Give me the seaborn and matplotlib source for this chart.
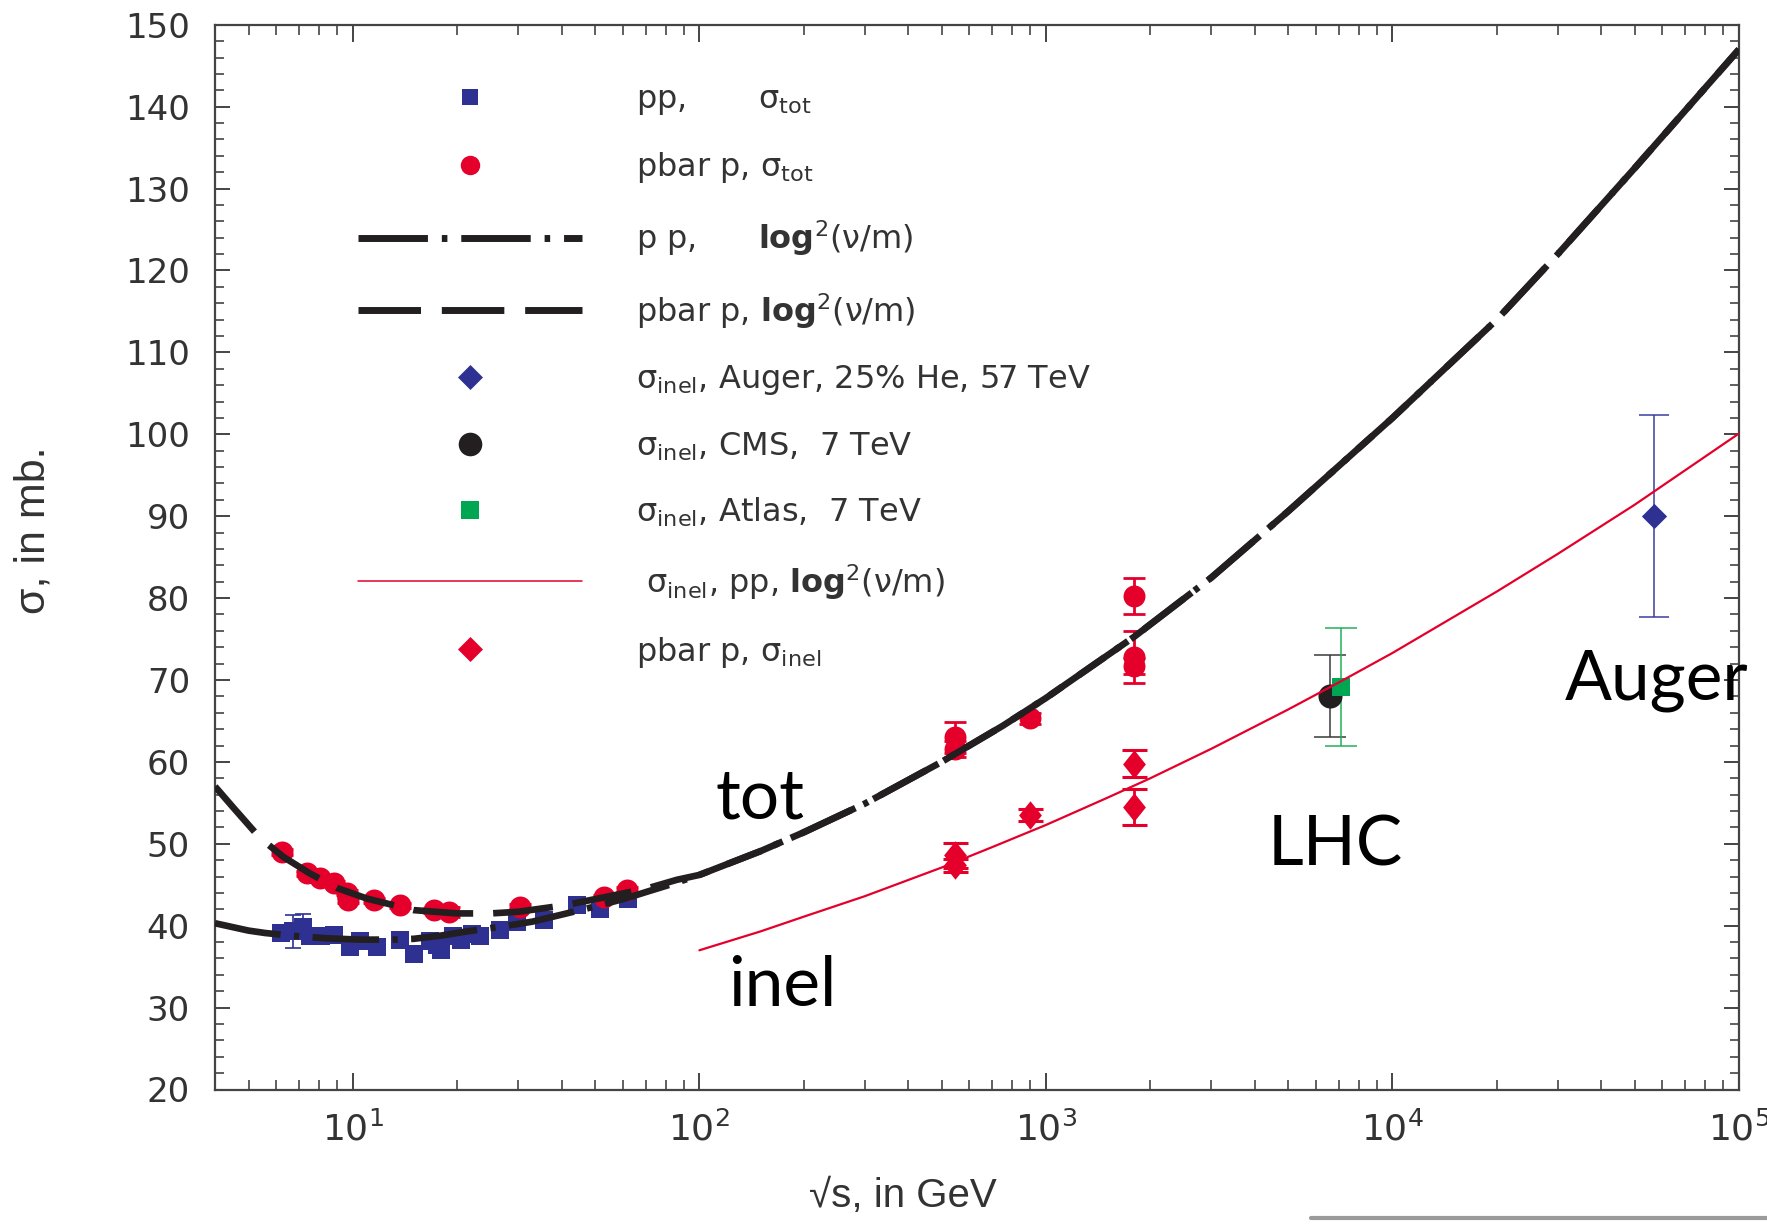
import matplotlib
matplotlib.use("Agg")
import matplotlib.pyplot as plt
from matplotlib.lines import Line2D
from matplotlib.ticker import MultipleLocator, LogLocator, NullFormatter
from matplotlib.font_manager import FontProperties
import numpy as np
import pandas as pd
import seaborn as sns

# ------------------ data ------------------
# fitted curves (sqrt(s) in GeV, sigma in mb)
low_pp_x = [4, 5, 5.6, 7, 8.5, 10.5, 13, 15, 18, 21.3, 27, 33, 41.4, 51.7, 62, 70, 85]
low_pp_y = [40.3, 39.4, 39.1, 38.7, 38.45, 38.3, 38.3, 38.4, 38.8, 39.3, 39.9, 40.5, 41.5, 42.5, 43.4, 44.1, 45.2]
low_pbarp_x = [4, 4.5, 5, 5.4, 6.3, 7.5, 9, 11, 15, 20, 25, 30, 41, 55, 70, 86]
low_pbarp_y = [57.0, 54.5, 52.3, 50.7, 48.4, 46.4, 44.6, 43.3, 41.9, 41.5, 41.5, 41.7, 42.5, 43.6, 44.5, 45.6]
high_tot_x = [100, 150, 200, 300, 500, 750, 1000, 1800, 3000, 5000, 1e4, 2e4, 3e4, 5e4, 1e5]
high_tot_y = [46.2, 49.1, 51.4, 54.9, 60.0, 64.4, 67.8, 75.3, 82.5, 90.6, 102.0, 114.0, 122.0, 132.5, 147.0]
inel_curve_x = [100, 150, 200, 300, 500, 700, 1000, 1500, 2000, 3000, 5000, 7000, 1e4, 2e4, 3e4, 5e4, 1e5]
inel_curve_y = [37.0, 39.3, 41.1, 43.6, 47.1, 49.6, 52.3, 55.6, 58.0, 61.6, 66.4, 69.7, 73.3, 80.8, 85.4, 91.4, 100.1]

# pp total cross sections
pp_tot_x = [6.2, 6.7, 7.2, 7.5, 8.1, 8.8, 9.8, 10.5, 11.7, 13.7, 15.0, 16.7, 17.5, 18.0, 19.5,
            20.5, 22.0, 23.3, 26.6, 29.7, 35.5, 44.3, 51.7, 62.2]
pp_tot_y = [39.1, 39.3, 39.9, 38.8, 38.8, 38.9, 37.4, 38.1, 37.4, 38.3, 36.6, 38.1, 37.6, 37.0, 38.8,
            38.2, 39.0, 38.8, 39.5, 40.5, 40.7, 42.5, 42.1, 43.3]
pp_tot_err = [1.0, 2.0, 1.5, 0.5, 0.4, 0.4, 0.4, 0.4, 0.3, 0.4, 0.5, 0.4, 0.3, 0.4, 0.5,
              0.3, 0.3, 0.4, 0.6, 0.4, 0.3, 0.3, 0.3, 0.3]

# pbar p total cross sections
pbp_tot_x = [6.24, 7.36, 8.05, 8.8, 9.6, 9.7, 11.5, 13.7, 17.1, 18.9, 30.4, 52.9, 61.7,
             546, 546, 900, 1800, 1800, 1800]
pbp_tot_y = [49.0, 46.4, 45.8, 45.2, 44.0, 43.1, 43.1, 42.5, 41.9, 41.7, 42.3, 43.5, 44.4,
             63.0, 61.6, 65.3, 80.2, 72.8, 71.7]
pbp_tot_err = [0.4, 0.3, 0.3, 0.3, 0.3, 0.3, 0.3, 0.3, 0.3, 0.6, 0.3, 0.3, 0.3,
               1.9, 1.0, 0.7, 2.2, 3.2, 1.0]

# pbar p inelastic cross sections
pbp_inel_x = [546, 546, 900, 1800, 1800]
pbp_inel_y = [48.6, 47.4, 53.5, 59.8, 54.5]
pbp_inel_err = [1.5, 0.8, 0.7, 1.6, 2.2]

# LHC and Auger inelastic points
cms_x, cms_y, cms_err = [6600], [68.0], [5.0]
atlas_x, atlas_y, atlas_err = [7100], [69.1], [7.2]
auger_x, auger_y, auger_err = [57000], [90.0], [12.3]

legend_labels = [
    r"pp,       $\mathrm{\sigma}_{\rm tot}$",
    r"pbar p, $\mathrm{\sigma}_{\rm tot}$",
    r"p p,      $\mathbf{log}^2\mathrm{(\nu/m)}$",
    r"pbar p, $\mathbf{log}^2\mathrm{(\nu/m)}$",
    r"$\mathrm{\sigma}_{\rm inel}$, Auger, 25% He, 57 TeV",
    r"$\mathrm{\sigma}_{\rm inel}$, CMS,  7 TeV",
    r"$\mathrm{\sigma}_{\rm inel}$, Atlas,  7 TeV",
    r" $\mathrm{\sigma}_{\rm inel}$, pp, $\mathbf{log}^2\mathrm{(\nu/m)}$",
    r"pbar p, $\mathrm{\sigma}_{\rm inel}$",
]

# ------------------ styling ------------------
BLUE = "#2E3192"
RED = "#E4002B"
GREEN = "#00A651"
BLACK = "#231F20"
GREY = "#333333"

sns.set_theme(style="ticks")
plt.rcParams.update({
    "font.family": ["DejaVu Sans"],
    "mathtext.fontset": "custom",
    "mathtext.rm": "Liberation Sans",
    "mathtext.it": "Liberation Sans:italic",
    "mathtext.bf": "Liberation Sans:bold",
    "axes.edgecolor": "#444444",
    "axes.linewidth": 1.6,
    "xtick.color": "#444444",
    "ytick.color": "#444444",
    "xtick.labelcolor": GREY,
    "ytick.labelcolor": GREY,
})

fig = plt.figure(figsize=(17.67, 12.25), dpi=100)
ax = fig.add_axes([215 / 1767, 1 - 1089.5 / 1225, (1739 - 215) / 1767, (1089.5 - 24.8) / 1225])
ax.set_xscale("log")

DASHDOT = (0, (10, 2.0, 0.8, 2.0))
DASHED = (0, (9, 3.0))
diamond_red = [(0, 1), (0.8, 0), (0, -1), (-0.8, 0)]
diamond = [(0, 1), (1, 0), (0, -1), (-1, 0)]

# error bars
ax.errorbar(pp_tot_x, pp_tot_y, yerr=pp_tot_err, fmt="none", ecolor=BLUE, elinewidth=1.2,
            capsize=6, capthick=1.2, zorder=2)
ax.errorbar(pbp_tot_x, pbp_tot_y, yerr=pbp_tot_err, fmt="none", ecolor=RED, elinewidth=2,
            capsize=8, capthick=2, zorder=2)
ax.errorbar(pbp_inel_x, pbp_inel_y, yerr=pbp_inel_err, fmt="none", ecolor=RED, elinewidth=2,
            capsize=9, capthick=2.2, zorder=2)
ax.errorbar(cms_x, cms_y, yerr=cms_err, fmt="none", ecolor="#3a3a3a", elinewidth=1.1,
            capsize=11.5, capthick=1.1, zorder=2)
ax.errorbar(atlas_x, atlas_y, yerr=atlas_err, fmt="none", ecolor="#22b05a", elinewidth=1.1,
            capsize=11.5, capthick=1.1, zorder=2)
ax.errorbar(auger_x, auger_y, yerr=auger_err, fmt="none", ecolor="#3b3f9c", elinewidth=1.1,
            capsize=11, capthick=1.1, zorder=2)

# markers
sns.scatterplot(x=pp_tot_x, y=pp_tot_y, marker="s", s=160, color=BLUE, linewidth=0, ax=ax, zorder=3)
sns.scatterplot(x=pbp_tot_x, y=pbp_tot_y, marker="o", s=250, color=RED, linewidth=0, ax=ax, zorder=3)
sns.scatterplot(x=pbp_inel_x, y=pbp_inel_y, marker=diamond_red, s=420, color=RED, linewidth=0, ax=ax, zorder=3)
sns.scatterplot(x=cms_x, y=cms_y, marker="o", s=300, color=BLACK, linewidth=0, ax=ax, zorder=3)
sns.scatterplot(x=atlas_x, y=atlas_y, marker="s", s=170, color=GREEN, linewidth=0, ax=ax, zorder=3)
sns.scatterplot(x=auger_x, y=auger_y, marker=diamond, s=330, color=BLUE, linewidth=0, ax=ax, zorder=3)

# curves
pp_curve = pd.DataFrame({"sqrt_s": low_pp_x + high_tot_x, "sigma": low_pp_y + high_tot_y})
pbarp_curve = pd.DataFrame({"sqrt_s": low_pbarp_x + high_tot_x, "sigma": low_pbarp_y + high_tot_y})
inel_curve = pd.DataFrame({"sqrt_s": inel_curve_x, "sigma": inel_curve_y})
sns.lineplot(data=pp_curve, x="sqrt_s", y="sigma", ax=ax, color=BLACK, lw=4.8, linestyle=DASHDOT,
             sort=False, estimator=None, zorder=5)
sns.lineplot(data=pbarp_curve, x="sqrt_s", y="sigma", ax=ax, color=BLACK, lw=4.8, linestyle=DASHED,
             sort=False, estimator=None, zorder=5)
sns.lineplot(data=inel_curve, x="sqrt_s", y="sigma", ax=ax, color=RED, lw=1.6,
             sort=False, estimator=None, zorder=5)

# axes
ax.set_xlim(4, 1e5)
ax.set_ylim(20, 150)
ax.set_xlabel("")
ax.set_ylabel("")
ax.yaxis.set_major_locator(MultipleLocator(10))
ax.yaxis.set_minor_locator(MultipleLocator(2))
ax.xaxis.set_major_locator(LogLocator(base=10))
ax.xaxis.set_minor_locator(LogLocator(base=10, subs=range(2, 10)))
ax.xaxis.set_minor_formatter(NullFormatter())
ax.tick_params(which="both", direction="in", top=True, right=True)
ax.tick_params(axis="y", which="major", length=11, width=1.4, labelsize=24.5, pad=18)
ax.tick_params(axis="y", which="minor", length=6.5, width=1.2)
ax.tick_params(axis="x", which="major", length=12, width=1.4, labelsize=26, pad=16)
ax.tick_params(axis="x", which="minor", length=7, width=1.2)
for sp in ax.spines.values():
    sp.set_visible(True)

# annotations
txt_kw = dict(fontsize=50, family=["Lato", "DejaVu Sans"], color="black", ha="center", va="baseline")
ax.text(150, 53.1, "tot", **txt_kw)
ax.text(173, 30.2, "inel", **txt_kw)
ax.text(6820, 47.4, "LHC", **txt_kw)
ax.text(57800, 67.6, "Auger", clip_on=False, **txt_kw)

# legend
handles = [
    Line2D([], [], ls="none", marker="s", ms=11.5, color=BLUE, mew=0),
    Line2D([], [], ls="none", marker="o", ms=14, color=RED, mew=0),
    Line2D([], [], color=BLACK, lw=5, ls=DASHDOT),
    Line2D([], [], color=BLACK, lw=5, ls=DASHED),
    Line2D([], [], ls="none", marker=diamond, ms=18, color=BLUE, mew=0),
    Line2D([], [], ls="none", marker="o", ms=17, color=BLACK, mew=0),
    Line2D([], [], ls="none", marker="s", ms=12.5, color=GREEN, mew=0),
    Line2D([], [], color=RED, lw=1.1),
    Line2D([], [], ls="none", marker=diamond, ms=18, color=RED, mew=0),
]
leg = ax.legend(handles, legend_labels, loc="upper left", bbox_to_anchor=(0.0938, 0.944),
                frameon=False, handlelength=7.0, handletextpad=1.7, labelspacing=1.03,
                borderpad=0, borderaxespad=0,
                prop=FontProperties(family="DejaVu Sans", size=23, math_fontfamily="dejavusans"))
for t in leg.get_texts():
    t.set_color(GREY)

# axis labels
fig.text(33 / 1767, 1 - 530 / 1225, "σ, in mb.", rotation=90, ha="center", va="center",
         fontsize=31, family=["Liberation Sans", "DejaVu Sans"], color=GREY)
fig.text(903 / 1767, 1 - 1196 / 1225, "√s, in GeV", ha="center", va="center",
         fontsize=29, family=["Liberation Sans", "DejaVu Sans"], color=GREY)

# grey bar at bottom right of the reference image
fig.add_artist(Line2D([1311 / 1767, 1.0], [1 - 1218 / 1225] * 2, transform=fig.transFigure,
                      color="#9a9a9a", lw=3))

fig.savefig("out.png", dpi=100)
